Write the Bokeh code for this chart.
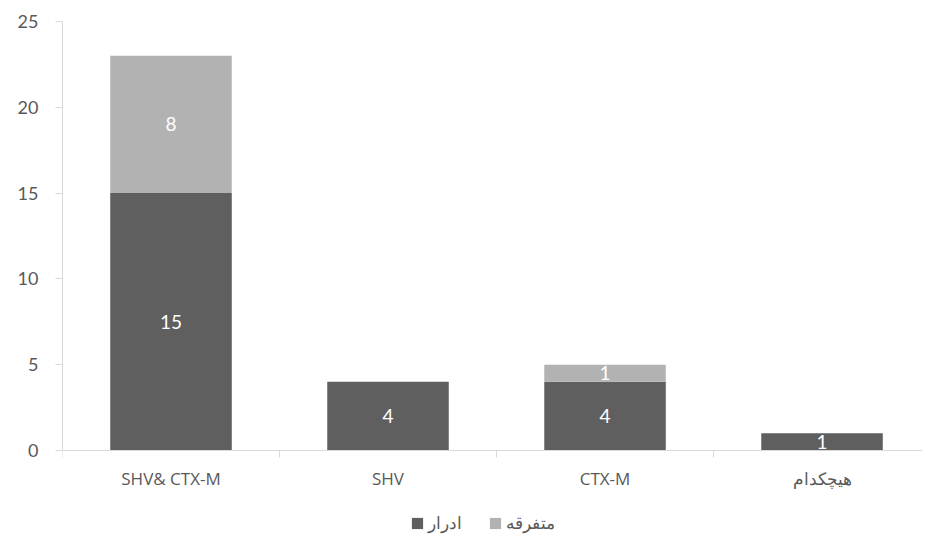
from bokeh.plotting import figure
from bokeh.models import ColumnDataSource, Range1d, FixedTicker, Legend, LegendItem
from bokeh.core.properties import value
from bokeh.embed import file_html
from bokeh.resources import INLINE

categories = ["SHV& CTX-M", "SHV", "CTX-M", "هیچکدام"]
series_names = ["ادرار", "متفرقه"]
urine = [15, 4, 4, 1]
misc = [8, 0, 1, 0]
y_ticks = [0, 5, 10, 15, 20, 25]

dark = "#5f5f5f"
light = "#b2b2b2"
txt = "#595959"
axis_c = "#d9d9d9"

xs = [i + 0.5 for i in range(len(categories))]
tops1 = urine
tops2 = [u + m for u, m in zip(urine, misc)]

# frame: top at 21px, value 0 at 450px, bottom of frame at 538px
p = figure(width=924, height=538, output_backend="svg", toolbar_location=None,
           x_range=Range1d(0, 3.963), y_range=Range1d(-5.13, 25),
           min_border_left=62, min_border_right=2, min_border_top=21, min_border_bottom=0)
p.outline_line_color = None
p.grid.visible = False
p.background_fill_color = "white"

src = ColumnDataSource(dict(x=xs, u=urine, m=misc, t1=tops1, t2=tops2))
r1 = p.vbar(x="x", bottom=0, top="t1", width=0.56, fill_color=dark, line_color=None, source=src)
r2 = p.vbar(x="x", bottom="t1", top="t2", width=0.56, fill_color=light, line_color=None, source=src)

lab1 = ColumnDataSource(dict(x=xs, y=[v / 2 for v in urine], t=[str(v) for v in urine]))
p.text(x="x", y="y", text="t", source=lab1, text_color="white", text_align="center",
       text_baseline="middle", text_font=value("Lato"), text_font_size="19px")
mx = [x for x, v in zip(xs, misc) if v > 0]
my = [u + v / 2 for u, v in zip(urine, misc) if v > 0]
mt = [str(v) for v in misc if v > 0]
lab2 = ColumnDataSource(dict(x=mx, y=my, t=mt))
p.text(x="x", y="y", text="t", source=lab2, text_color="white", text_align="center",
       text_baseline="middle", text_font=value("Lato"), text_font_size="19px")

# y axis
p.yaxis.ticker = FixedTicker(ticks=y_ticks)
p.yaxis.bounds = (0, 25)
p.yaxis.axis_line_color = axis_c
p.yaxis.major_tick_line_color = axis_c
p.yaxis.major_tick_in = 0
p.yaxis.major_tick_out = 7
p.yaxis.minor_tick_line_color = None
p.yaxis.major_label_text_color = txt
p.yaxis.major_label_text_font = "Lato"
p.yaxis.major_label_text_font_size = "18px"
p.yaxis.major_label_standoff = 17

# x axis at value 0
p.xaxis.fixed_location = 0
p.xaxis.ticker = FixedTicker(ticks=xs, minor_ticks=[0, 1, 2, 3, 4])
p.xaxis.major_label_overrides = {x: c for x, c in zip(xs, categories)}
p.xaxis.axis_line_color = axis_c
p.xaxis.major_tick_line_color = None
p.xaxis.major_tick_in = 0
p.xaxis.major_tick_out = 7
p.xaxis.minor_tick_line_color = axis_c
p.xaxis.minor_tick_in = 0
p.xaxis.minor_tick_out = 7
p.xaxis.major_label_text_color = txt
p.xaxis.major_label_text_font = "Open Sans"
p.xaxis.major_label_text_font_size = "17px"
p.xaxis.major_label_standoff = 10

legend = Legend(items=[LegendItem(label=series_names[0], renderers=[r1]),
                       LegendItem(label=series_names[1], renderers=[r2])],
                orientation="horizontal", location=(348, 4),
                label_text_font="Noto Sans", label_text_font_size="17px",
                label_text_color=txt, glyph_width=14, glyph_height=14,
                label_standoff=4, spacing=26, padding=0, margin=0,
                border_line_color=None, background_fill_alpha=0)
p.add_layout(legend, "center")

open("out.html", "w").write(file_html(p, INLINE))
